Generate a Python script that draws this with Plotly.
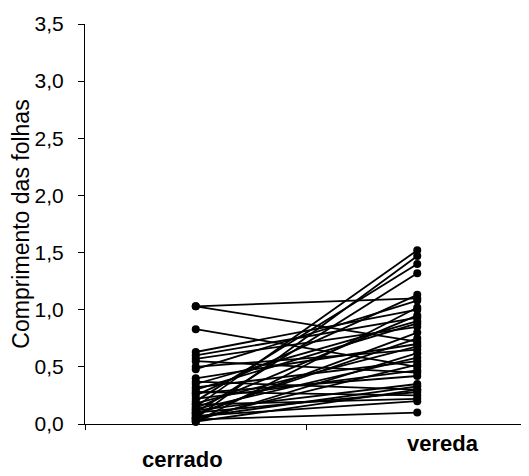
import plotly.graph_objects as go

categories = ["cerrado", "vereda"]
cerrado_vals = [1.03, 1.03, 0.83, 0.63, 0.60, 0.57, 0.55, 0.50, 0.48, 0.40, 0.37,
                0.35, 0.32, 0.30, 0.28, 0.25, 0.22, 0.20, 0.18, 0.17, 0.15, 0.14,
                0.12, 0.10, 0.10, 0.08, 0.07, 0.05, 0.05, 0.04, 0.03, 0.02, 0.02,
                0.27, 0.13, 0.09, 0.06]
vereda_vals = [1.10, 0.72, 0.50, 1.00, 0.93, 0.85, 0.45, 0.65, 1.08, 0.70, 0.30,
               0.90, 0.55, 0.88, 0.25, 1.13, 0.47, 1.40, 0.68, 0.22, 1.52, 0.95,
               0.35, 1.32, 0.28, 0.80, 0.20, 1.47, 0.52, 0.10, 0.62, 0.30, 1.02,
               0.42, 0.58, 0.75, 0.33]
y_ticks = [0.0, 0.5, 1.0, 1.5, 2.0, 2.5, 3.0, 3.5]

fig = go.Figure()
for c, v in zip(cerrado_vals, vereda_vals):
    fig.add_trace(go.Scatter(
        x=[0, 1], y=[c, v], mode="lines+markers",
        line=dict(color="black", width=1.8),
        marker=dict(color="black", size=8),
        showlegend=False, cliponaxis=False, hoverinfo="skip"))

for i, cat in enumerate(categories):
    fig.add_annotation(
        x=i, y=0, xref="x", yref="paper", text=cat, showarrow=False,
        yanchor="top", xshift=(-13 if i == 0 else 26), yshift=(-21 if i == 0 else -5),
        font=dict(family="Liberation Sans, Arial, sans-serif", size=22, color="black", weight="bold"))

fig.update_layout(
    width=521, height=468,
    margin=dict(l=77, r=1, t=16, b=52),
    paper_bgcolor="white", plot_bgcolor="white",
    separators=",.",
    font=dict(family="Liberation Sans, Arial, sans-serif", color="black"),
)
fig.update_xaxes(
    range=[-0.5, 1.5], tickvals=[-0.5, 0.5, 1.5], showticklabels=False,
    ticks="outside", ticklen=5, tickcolor="black",
    showline=True, linecolor="black", linewidth=1, showgrid=False, zeroline=False)
fig.update_yaxes(
    range=[0, 3.5], tickvals=y_ticks, tickformat=".1f",
    ticks="outside", ticklen=6, tickcolor="black", ticklabelstandoff=10,
    tickfont=dict(size=21, color="black"),
    showline=True, linecolor="black", linewidth=1, showgrid=False, zeroline=False,
    title=dict(text="Comprimento das folhas", font=dict(size=23, color="black"), standoff=4))

fig.write_html("out.html")
